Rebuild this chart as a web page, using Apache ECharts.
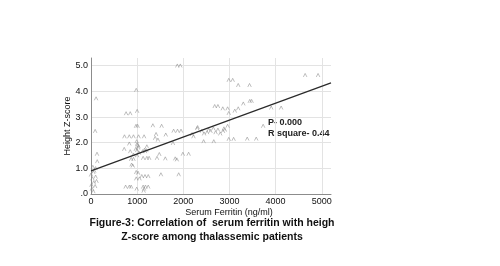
<!DOCTYPE html>
<html>
<head>
<meta charset="utf-8">
<script src="https://cdn.jsdelivr.net/npm/echarts@6/dist/echarts.min.js"></script>
<style>
  html, body { margin: 0; padding: 0; background: #fff; }
  #chart { width: 500px; height: 266px; }
</style>
</head>
<body>
<div id="chart"></div>
<script>
// serum ferritin (ng/ml) vs height z-score
const ferritin = [
  110, 90, 130, 135, 40, 100, 50, 100, 30, 60, 90, 20, 50, 10, 70, 0, 120,
  760, 850, 1000, 980, 975, 1010, 725, 830, 920, 1030, 1150, 990, 1000, 1010, 1030,
  830, 720, 850, 970, 1000, 1020, 1040, 920, 870, 920, 1000, 1160, 1200, 1210, 1120,
  1170, 1130, 1210, 1260, 880, 905, 980, 1020, 980, 1050, 1100, 1170, 1240, 750, 830,
  870, 1130, 1180, 1240, 1150, 1140, 990, 1340,
  1410, 1390, 1450, 1620, 1530, 1790, 1875, 1950, 1775, 1610, 1825, 1860, 1990, 2115,
  1515, 1900, 1870, 1935, 2190, 2220, 1480, 1430,
  2300, 2310, 2400, 2450, 2515, 2550, 2590, 2650, 2700, 2750, 2800, 2860, 2880, 2960,
  2900, 2440, 2660, 2985, 3090, 2680, 2750, 2855, 2960, 2985, 3115, 2985, 3070,
  3190, 3435, 3190, 3300, 3440, 3480, 3385, 3580, 3730, 3905, 4120, 4640, 4920
];
const heightZ = [
  3.72, 2.45, 1.56, 1.27, 1.05, 1.0, 0.85, 0.67, 0.6, 0.45, 0.3, 0.2, 0.1, 0.35, 0.9, 0.75, 0.5,
  3.14, 3.14, 3.23, 4.05, 2.65, 2.65, 2.24, 2.24, 2.24, 2.24, 2.24, 2.05, 1.95, 1.9, 1.85,
  1.96, 1.75, 1.66, 1.75, 1.7, 1.8, 1.6, 1.53, 1.36, 1.36, 1.5, 1.72, 1.7, 1.85, 1.66,
  1.66, 1.4, 1.4, 1.4, 1.14, 1.1, 0.85, 0.82, 0.6, 0.6, 0.69, 0.69, 0.69, 0.28, 0.28,
  0.28, 0.28, 0.28, 0.28, 0.2, 0.12, 0.2, 2.67,
  2.33, 2.18, 2.11, 2.31, 2.65, 2.46, 2.46, 2.46, 1.98, 1.38, 1.38, 1.34, 1.56, 1.56,
  0.76, 0.76, 5.0, 5.0, 2.33, 2.24, 1.55, 1.4,
  2.56, 2.6, 2.45, 2.35, 2.4, 2.5, 2.45, 2.55, 2.4, 2.5, 2.35, 2.45, 2.55, 2.65,
  2.5, 2.05, 2.05, 2.14, 2.14, 3.42, 3.42, 3.33, 3.33, 3.15, 3.24, 4.44, 4.44,
  4.24, 4.24, 3.33, 3.52, 3.62, 3.62, 2.15, 2.15, 2.65, 3.36, 3.36, 4.63, 4.63
];
// fitted line end points
const fitX = [0, 5200];
const fitY = [0.9, 4.33];

const xTicks = ['0', '1000', '2000', '3000', '4000', '5000'];
const yTicks = ['.0', '1.0', '2.0', '3.0', '4.0', '5.0'];

const chart = echarts.init(document.getElementById('chart'));

const points = ferritin.map((v, i) => [v, heightZ[i]]);
const fit = fitX.map((v, i) => [v, fitY[i]]);
const font = 'Liberation Sans, Arial, sans-serif';
const grid = ['#e3e3e3', '#e3e3e3', '#e3e3e3', '#e3e3e3', '#e3e3e3', '#e3e3e3', 'rgba(0,0,0,0)'];

const option = {
  animation: false,
  grid: { left: 91, right: 169, top: 58, bottom: 72 },
  xAxis: {
    type: 'value',
    min: 0,
    max: 5200,
    interval: 1000,
    axisLine: { lineStyle: { color: '#8c8c8c', width: 1 } },
    axisTick: { show: false },
    axisLabel: {
      showMaxLabel: false,
      margin: 3,
      fontSize: 9,
      fontFamily: font,
      color: '#111',
      formatter: v => xTicks[v / 1000] || ''
    },
    splitLine: { show: true, lineStyle: { color: grid, width: 1 } }
  },
  yAxis: {
    type: 'value',
    min: 0,
    max: 5.3,
    interval: 1,
    name: 'Height Z-score',
    nameLocation: 'middle',
    nameGap: 13,
    nameTextStyle: { fontSize: 9, fontFamily: font, color: '#111' },
    axisLine: { show: true, lineStyle: { color: '#8c8c8c', width: 1 } },
    axisTick: { show: false },
    axisLabel: {
      showMaxLabel: false,
      margin: 3,
      fontSize: 9,
      fontFamily: font,
      color: '#111',
      formatter: v => yTicks[Math.round(v)] || ''
    },
    splitLine: { show: true, lineStyle: { color: grid, width: 1 } }
  },
  series: [
    {
      type: 'scatter',
      data: points,
      symbol: 'path://M0,8L4,0L8,8',
      symbolSize: [3.5, 3.5],
      itemStyle: { color: 'rgba(0,0,0,0)', borderColor: '#8a8a8a', borderWidth: 0.7 },
      z: 3
    },
    {
      type: 'line',
      data: fit,
      symbol: 'none',
      lineStyle: { color: '#2a2a2a', width: 1.2 },
      z: 4
    }
  ],
  graphic: [
    {
      type: 'text', left: 268, top: 118,
      style: { text: 'P- 0.000', fontSize: 9, fontWeight: 'bold', fontFamily: font, fill: '#222' }
    },
    {
      type: 'text', left: 268, top: 129,
      style: { text: 'R square- 0.44', fontSize: 9, fontWeight: 'bold', fontFamily: font, fill: '#222' }
    },
    {
      type: 'text', x: 229, y: 213,
      style: { text: 'Serum Ferritin (ng/ml)', fontSize: 9, fontFamily: font, fill: '#111', align: 'center', verticalAlign: 'middle' }
    },
    {
      type: 'text', x: 212, y: 223,
      style: { text: 'Figure-3: Correlation of  serum ferritin with heigh', fontSize: 10.5, fontWeight: 'bold', fontFamily: font, fill: '#111', align: 'center', verticalAlign: 'middle' }
    },
    {
      type: 'text', x: 212, y: 237,
      style: { text: 'Z-score among thalassemic patients', fontSize: 10.5, fontWeight: 'bold', fontFamily: font, fill: '#111', align: 'center', verticalAlign: 'middle' }
    }
  ]
};

chart.setOption(option);
</script>
</body>
</html>
